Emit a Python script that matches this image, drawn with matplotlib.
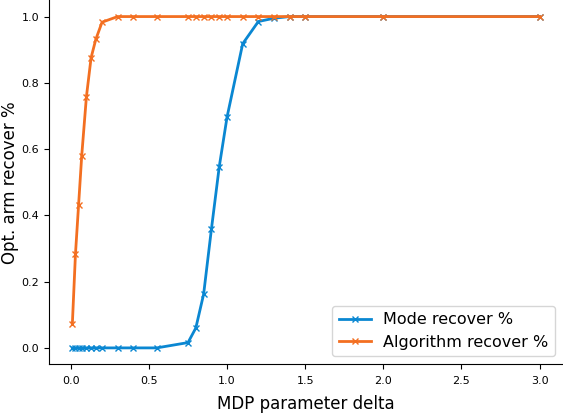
import matplotlib
matplotlib.use("Agg")
import matplotlib.pyplot as plt

delta = [0.01, 0.03, 0.05, 0.07, 0.1, 0.13, 0.16, 0.2, 0.3, 0.4, 0.55, 0.75, 0.8, 0.85,
         0.9, 0.95, 1.0, 1.1, 1.2, 1.3, 1.4, 1.5, 2.0, 3.0]
mode_recover = [0.0, 0.0, 0.0, 0.0, 0.0, 0.0, 0.0, 0.0, 0.0, 0.0, 0.0, 0.016, 0.06, 0.162,
                0.359, 0.547, 0.697, 0.918, 0.985, 0.995, 1.0, 1.0, 1.0, 1.0]
algo_recover = [0.072, 0.284, 0.432, 0.58, 0.758, 0.876, 0.931, 0.983, 1.0, 1.0, 1.0, 1.0, 1.0, 1.0,
                1.0, 1.0, 1.0, 1.0, 1.0, 1.0, 1.0, 1.0, 1.0, 1.0]

fig = plt.figure(figsize=(5.63, 4.17), dpi=100)
ax = fig.add_axes([0.087, 0.126, 0.913, 0.874])
ax.plot(delta, mode_recover, marker='x', color='#0a87d2', lw=2, ms=4, mew=1, label='Mode recover %')
ax.plot(delta, algo_recover, marker='x', color='#f36f21', lw=2, ms=4, mew=1, label='Algorithm recover %')
ax.spines['top'].set_visible(False)
ax.spines['right'].set_visible(False)
ax.tick_params(labelsize=8)
ax.tick_params(axis='x', pad=5)
ax.set_xlabel('MDP parameter delta', fontsize=12, labelpad=6)
ax.set_ylabel('Opt. arm recover %', fontsize=12, labelpad=2)
ax.legend(loc='lower right', fontsize=11.5)
fig.savefig('out.png', dpi=100)
